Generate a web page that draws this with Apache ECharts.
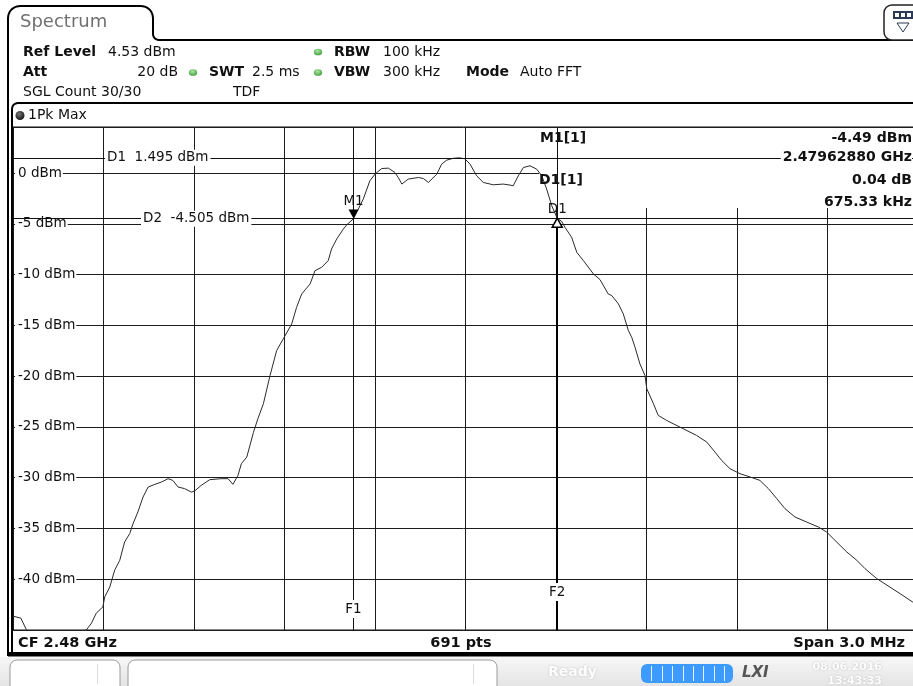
<!DOCTYPE html>
<html>
<head>
<meta charset="utf-8">
<script src="https://cdn.jsdelivr.net/npm/echarts@6/dist/echarts.min.js"></script>
<style>
html,body{margin:0;padding:0;background:#fff;}
#c{width:913px;height:686px;}
</style>
</head>
<body>
<div id="c"></div>
<script>
// ---- data (frequency offset from CF 2.48 GHz, in kHz / level in dBm) ----
const freqOffsetKHz = [
  -1500,-1474,-1455,-1444,-1394,-1344,-1295,-1257,-1240,-1224,-1202,-1196,-1179,-1163,-1146,-1130,
  -1113,-1102,-1086,-1069,-1052,-1030,-1008,-986,-970,-953,-931,-909,-898,-876,-848,-810,-787,-771,
  -754,-743,-725,-703,-688,-670,-648,-626,-604,-576,-560,-543,-515,-499,-477,-455,-444,-427,-405,
  -393,-371,-339,-317,-300,-278,-256,-234,-223,-211,-190,-156,-140,-123,-95,-79,-62,-40,-21,-2,15,
  37,59,92,125,148,158,175,192,214,236,253,269,286,304,319,330,352,369,391,424,446,473,485,507,523,
  540,551,562,578,595,601,623,639,667,711,766,800,827,849,877,910,954,976,1004,1032,1059,1092,1131,
  1170,1197,1219,1264,1297,1324,1363,1440,1483,1500
];
const levelDbm = [
  -43.64,-43.83,-45.01,-45.5,-45.8,-45.6,-45.3,-45.0,-44.33,-43.34,-42.72,-41.74,-40.76,-39.11,-38.13,-36.33,
  -35.51,-34.52,-33.38,-31.91,-30.92,-30.66,-30.43,-30.10,-30.27,-30.92,-31.08,-31.42,-31.32,-30.76,-30.20,-30.10,-30.10,-30.66,
  -29.77,-28.62,-27.97,-25.55,-24.17,-22.72,-19.94,-17.48,-16.33,-14.86,-13.23,-11.91,-10.92,-9.62,-9.29,-8.63,-7.48,-6.50,-5.52,
  -5.09,-4.49,-2.57,-0.77,-0.11,0.44,0.48,0.05,-0.44,-1.09,-0.60,-0.44,-0.54,-0.93,-0.11,0.88,1.27,1.45,1.495,1.40,0.88,
  -0.28,-0.93,-1.16,-1.09,-1.19,-1.26,-0.28,0.54,0.71,0.38,-0.28,-1.58,-3.23,-4.45,-4.77,-5.36,-6.34,-7.82,-8.63,-9.94,-10.50,-11.91,-12.07,-12.89,-13.87,
  -15.52,-16.18,-17.16,-18.79,-19.94,-21.25,-22.72,-23.87,-24.37,-25.02,-25.84,-26.50,-27.48,-28.30,-29.12,-29.61,-30.04,-30.27,-31.08,-32.07,-33.05,-33.87,-34.37,
  -34.86,-35.35,-36.00,-37.32,-38.13,-38.95,-39.93,-41.41,-42.26,-42.70
];
const yTickValues = [0,-5,-10,-15,-20,-25,-30,-35,-40];
const refLevel = 4.53;
const yBottom = -45;
const xMinKHz = -1500, xMaxKHz = 1500, xStepKHz = 300;
const m1FreqKHz = -371.2, m1Level = -4.49;
const d1FreqKHz = 304.13, d1Level = -4.45;
const displayLine1 = 1.495, displayLine2 = -4.505;

const FONT = '"DejaVu Sans", Verdana, sans-serif';
const chart = echarts.init(document.getElementById('c'), null, {renderer:'canvas', width:913, height:686});
const traceData = freqOffsetKHz.map((f, i) => [f, levelDbm[i]]);
const gridLineColor = '#1c1c1c';

chart.setOption({
  animation: false,
  backgroundColor: '#fff',
  grid: {left: 13, top: 127, width: 905, height: 503, show: true, borderColor: '#111', borderWidth: 1,
         backgroundColor: 'rgba(0,0,0,0)', containLabel: false, outerBoundsMode: 'none'},
  xAxis: {type: 'value', min: xMinKHz, max: xMaxKHz, interval: xStepKHz,
          axisLine: {show: false}, axisTick: {show: false}, axisLabel: {show: false},
          splitLine: {show: true, lineStyle: {color: gridLineColor, width: 1}}},
  yAxis: [
    {type: 'value', min: yBottom, max: refLevel, interval: 5, position: 'left', z: 0,
     axisLine: {show: false}, axisTick: {show: false}, axisLabel: {show: false},
     splitLine: {show: true, lineStyle: {color: gridLineColor, width: 1}}},
    {type: 'value', min: yBottom, max: refLevel, interval: 5, position: 'left', z: 1,
     axisLine: {show: false}, axisTick: {show: false}, splitLine: {show: false},
     axisLabel: {inside: true, margin: 2, showMinLabel: false, showMaxLabel: false,
       formatter: v => yTickValues.indexOf(Math.round(v * 100) / 100) >= 0 ? Math.round(v) + ' dBm' : '',
       color: '#111', fontFamily: FONT, fontSize: 13.5, backgroundColor: '#fff', padding: [1, 1, 1, 3]}}
  ],
  series: [{
    type: 'line', data: traceData, xAxisIndex: 0, yAxisIndex: 0, z: 2,
    symbol: 'none', showSymbol: false, clip: true,
    lineStyle: {color: '#2a2a2a', width: 1},
    markLine: {
      silent: true, symbol: 'none', animation: false,
      label: {show: false},
      lineStyle: {color: '#111', type: 'solid', width: 1},
      data: [
        {yAxis: displayLine1},
        {yAxis: displayLine2},
        {xAxis: m1FreqKHz},
        [{coord: [d1FreqKHz, d1Level], lineStyle: {width: 2, color: '#000'}}, {coord: [d1FreqKHz, yBottom]}],
        [{coord: [d1FreqKHz, refLevel]}, {coord: [d1FreqKHz, d1Level]}]
      ]
    },
    markPoint: {
      silent: true, animation: false,
      data: [
        {coord: [m1FreqKHz, m1Level], symbol: 'triangle', symbolRotate: 180, symbolSize: [10, 9], symbolOffset: [0, '-50%'],
         itemStyle: {color: '#000'},
         label: {show: true, formatter: 'M1', position: 'top', distance: 1, color: '#111', fontFamily: FONT, fontSize: 13.5}},
        {coord: [d1FreqKHz, d1Level], symbol: 'triangle', symbolSize: [10, 9], symbolOffset: [0, '50%'],
         itemStyle: {color: '#fff', borderColor: '#000', borderWidth: 1.5},
         label: {show: true, formatter: 'D1', position: 'top', distance: 1, color: '#111', fontFamily: FONT, fontSize: 13.5}}
      ]
    }
  }]
});

const px = (x, y) => chart.convertToPixel({seriesIndex: 0}, [x, y]);
function T(text, x, y, o) {
  o = o || {};
  return {type: 'text', x: x, y: y, z: o.z == null ? 10 : o.z, silent: true,
    style: Object.assign({text: text, fill: o.fill || '#111',
      font: (o.weight || 'normal') + ' ' + (o.size || 14) + 'px ' + FONT,
      align: o.align || 'left', verticalAlign: 'middle'}, o.style || {})};
}
function greenDot(x, y) {
  return {type: 'circle', z: 10, silent: true, shape: {cx: x, cy: y, r: 4.2}, scaleY: 0.8, originX: x, originY: y,
    style: {fill: {type: 'radial', x: 0.45, y: 0.35, r: 0.75, colorStops: [{offset: 0, color: '#a8e89a'}, {offset: 1, color: '#3a9438'}]}}};
}
// rounded-corner outline helper (chrome only)
function arcPts(cx, cy, r, a0, a1) {
  const pts = [];
  for (let i = 0; i <= 6; i++) { const a = a0 + (a1 - a0) * i / 6; pts.push([cx + r * Math.cos(a), cy + r * Math.sin(a)]); }
  return pts;
}
function poly(points, w) {
  return {type: 'polyline', z: 10, silent: true, shape: {points: points}, style: {fill: null, stroke: '#000', lineWidth: w || 2}};
}

const d1y = px(0, displayLine1)[1];
const d2y = px(0, displayLine2)[1];
const f1x = px(m1FreqKHz, 0)[0];
const f2x = px(d1FreqKHz, 0)[0];
const bottomY = px(0, yBottom)[1];
const PI = Math.PI;

const g = [];
// frames
g.push(poly([[8, 656]].concat(arcPts(20, 18, 12, PI, 1.5 * PI), arcPts(141, 18, 12, 1.5 * PI, 2 * PI), arcPts(159, 34, 6, PI, 0.5 * PI), [[918, 40]])));
g.push(poly([[12, 654]].concat(arcPts(18, 109, 6, PI, 1.5 * PI), [[918, 103]])));
g.push({type: 'rect', z: 10, silent: true, shape: {x: 8, y: 652, width: 910, height: 4.5}, style: {fill: '#000'}});
g.push(T('Spectrum', 20, 22, {size: 18, fill: '#707070'}));
// top right button
g.push({type: 'rect', z: 10, silent: true, shape: {x: 884, y: 5, width: 40, height: 35, r: 8}, style: {fill: '#fff', stroke: '#222', lineWidth: 1.5}});
g.push({type: 'rect', z: 11, silent: true, shape: {x: 893, y: 11, width: 20, height: 8}, style: {fill: '#2b3a55'}});
[895, 901, 907].forEach(x => g.push({type: 'rect', z: 12, silent: true, shape: {x: x, y: 13, width: 4, height: 4}, style: {fill: '#fff'}}));
g.push({type: 'polygon', z: 11, silent: true, shape: {points: [[897, 23], [909, 23], [903, 32]]}, style: {fill: null, stroke: '#2b3a55', lineWidth: 1}});
// header
g.push(T('Ref Level', 23, 52, {weight: 'bold'}));
g.push(T('4.53 dBm', 108, 52));
g.push(greenDot(318, 52));
g.push(T('RBW', 334, 52, {weight: 'bold'}));
g.push(T('100 kHz', 383, 52));
g.push(T('Att', 23, 72.5, {weight: 'bold'}));
g.push(T('20 dB', 178, 72.5, {align: 'right'}));
g.push(greenDot(193, 72.5));
g.push(T('SWT', 209, 72.5, {weight: 'bold'}));
g.push(T('2.5 ms', 252, 72.5));
g.push(greenDot(318, 72.5));
g.push(T('VBW', 334, 72.5, {weight: 'bold'}));
g.push(T('300 kHz', 383, 72.5));
g.push(T('Mode', 466, 72.5, {weight: 'bold'}));
g.push(T('Auto FFT', 520, 72.5));
g.push(T('SGL Count 30/30', 23, 92.5));
g.push(T('TDF', 233, 92.5));
g.push({type: 'circle', z: 10, silent: true, shape: {cx: 20, cy: 115.5, r: 4.5},
  style: {fill: {type: 'radial', x: 0.4, y: 0.35, r: 0.7, colorStops: [{offset: 0, color: '#777'}, {offset: 1, color: '#111'}]}}});
g.push(T('1Pk Max', 28, 115.5));
// marker info box
g.push({type: 'rect', z: 1, silent: true, shape: {x: 539, y: 128, width: 380, height: 80}, style: {fill: '#fff'}});
g.push(T('M1[1]', 540, 138, {weight: 'bold'}));
g.push(T('-4.49 dBm', 912, 138, {weight: 'bold', align: 'right'}));
g.push(T('2.47962880 GHz', 912, d1y, {weight: 'bold', align: 'right', style: {backgroundColor: '#fff', padding: [1, 0, 1, 2]}}));
g.push(T('D1[1]', 539, 180, {weight: 'bold'}));
g.push(T('0.04 dB', 912, 180, {weight: 'bold', align: 'right'}));
g.push(T('675.33 kHz', 912, 202, {weight: 'bold', align: 'right'}));
// display line labels
g.push(T('D1  1.495 dBm', 105, d1y, {size: 13.5, style: {backgroundColor: '#fff', padding: [1, 2, 1, 2]}}));
g.push(T('D2  -4.505 dBm', 141, d2y, {size: 13.5, style: {backgroundColor: '#fff', padding: [1, 2, 1, 2]}}));
// frequency line labels
g.push(T('F1', f1x, bottomY - 21, {size: 13.5, align: 'center', style: {backgroundColor: '#fff', padding: [2, 1, 2, 1]}}));
g.push(T('F2', f2x, bottomY - 38, {size: 13.5, align: 'center', style: {backgroundColor: '#fff', padding: [2, 1, 2, 1]}}));
// bottom info bar
g.push(T('CF 2.48 GHz', 18, 643, {weight: 'bold', size: 14.5}));
g.push(T('691 pts', 461, 643, {weight: 'bold', size: 14.5, align: 'center'}));
g.push(T('Span 3.0 MHz', 905, 643, {weight: 'bold', size: 14.5, align: 'right'}));
// status bar
g.push({type: 'rect', z: 9, silent: true, shape: {x: 0, y: 657, width: 913, height: 29},
  style: {fill: {type: 'linear', x: 0, y: 0, x2: 0, y2: 1, colorStops: [{offset: 0, color: '#f7f7f7'}, {offset: 1, color: '#e4e4e4'}]}}});
g.push({type: 'rect', z: 10, silent: true, shape: {x: 10, y: 660, width: 110, height: 34, r: 7}, style: {fill: '#fff', stroke: '#9a9a9a', lineWidth: 1}});
g.push({type: 'rect', z: 10, silent: true, shape: {x: 128, y: 660, width: 369, height: 34, r: 7}, style: {fill: '#fff', stroke: '#9a9a9a', lineWidth: 1}});
g.push({type: 'line', z: 11, silent: true, shape: {x1: 97.5, y1: 664, x2: 97.5, y2: 684}, style: {stroke: '#dcdcdc', lineWidth: 1}});
g.push({type: 'line', z: 11, silent: true, shape: {x1: 473.5, y1: 664, x2: 473.5, y2: 684}, style: {stroke: '#dcdcdc', lineWidth: 1}});
g.push(T('Ready', 548, 672, {weight: 'bold', size: 14, fill: '#fdfdfd', style: {textShadowColor: '#bdbdbd', textShadowBlur: 2}}));
g.push({type: 'rect', z: 10, silent: true, shape: {x: 641, y: 664, width: 92, height: 19, r: 6}, style: {fill: '#3d9bff'}});
for (let i = 1; i <= 8; i++) {
  const x = Math.round(641 + i * 10.4) + 0.5;
  g.push({type: 'line', z: 11, silent: true, shape: {x1: x, y1: 666, x2: x, y2: 681}, style: {stroke: '#e8f2ff', lineWidth: 1}});
}
g.push(T('LXI', 742, 673, {fill: '#555', style: {font: 'italic bold 15px ' + FONT}}));
g.push(T('08.06.2016', 882, 667, {weight: 'bold', size: 11, align: 'right', fill: '#fdfdfd', style: {textShadowColor: '#bdbdbd', textShadowBlur: 2}}));
g.push(T('13:43:33', 882, 681, {weight: 'bold', size: 11, align: 'right', fill: '#fdfdfd', style: {textShadowColor: '#bdbdbd', textShadowBlur: 2}}));

chart.setOption({graphic: {elements: g}});
</script>
</body>
</html>
